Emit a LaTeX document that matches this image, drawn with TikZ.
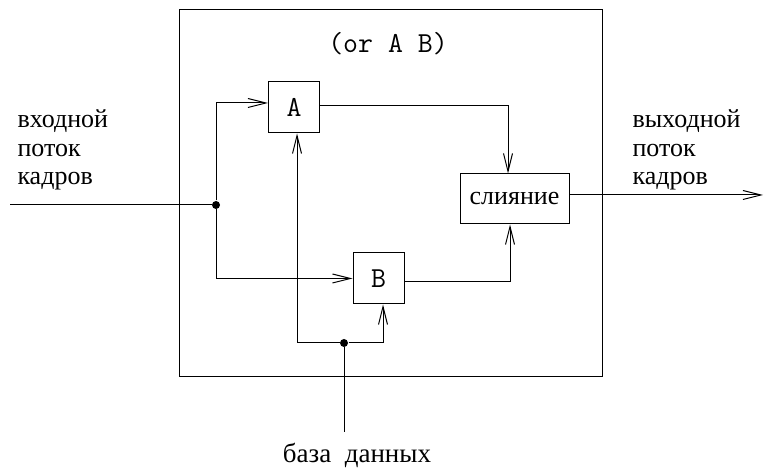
\documentclass[tikz,border=0pt]{standalone}
\usepackage{fontspec}
\setmainfont{Liberation Serif}
\usetikzlibrary{arrows.meta, positioning}

\begin{document}
\begin{tikzpicture}[x=1pt, y=-1pt, line width=1pt, >={Straight Barb[length=18pt, width=9pt]},
	block/.style={draw, inner sep=0pt, minimum size=51pt, font=\fontsize{29}{30}\ttfamily},
	caption/.style={align=left, inner sep=0pt, font=\fontsize{26}{28.5}\selectfont},
	junction/.style={circle, fill, inner sep=0pt, minimum size=8pt}]

	\useasboundingbox (0,0) rectangle (764,470);

	\node[draw, minimum width=423pt, minimum height=367.5pt] (frame) at (390.5,193.25) {};
	\node[font=\fontsize{29}{30}\ttfamily] (title) at (388,44) {(or A B)};

	\node[block] (A) at (294,107.5) {A};
	\node[block] (B) at (378.5,278.5) {B};
	\node[block, minimum width=109pt, minimum height=50pt, font=\fontsize{26}{28}\selectfont] (merge) at (514.5,199) {слияние};

	\node[junction] (split) at (216,205) {};
	\node[junction] (db) at (344,343) {};
	\coordinate (in) at (10,205);
	\coordinate (out) at (763,195);
	\coordinate (dbsrc) at (344,432);

	\node[caption, anchor=base west] (inlabel) at (17,185) {входной\\поток\\кадров};
	\node[caption, anchor=base west] (outlabel) at (632,185) {выходной\\поток\\кадров};
	\node[caption, anchor=base, font=\fontsize{27}{28.5}\selectfont] (dblabel) at (357,463) {база\ \ данных};

	\draw (in) -- (split);
	\draw[->] (split) |- ([yshift=4.5pt]A.west);
	\draw[->] (split) |- (B.west);
	\draw[->] ([yshift=1.5pt]A.east) -| ([xshift=-6.5pt]merge.north);
	\draw[->] ([yshift=-3.5pt]B.east) -| ([xshift=-4.5pt]merge.south);
	\draw[->] (merge.east |- out) -- (out);
	\draw (dbsrc) -- (db);
	\draw[->] (db) -| ([xshift=3pt]A.south);
	\draw[->] (db) -| ([xshift=4.5pt]B.south);
\end{tikzpicture}
\end{document}
